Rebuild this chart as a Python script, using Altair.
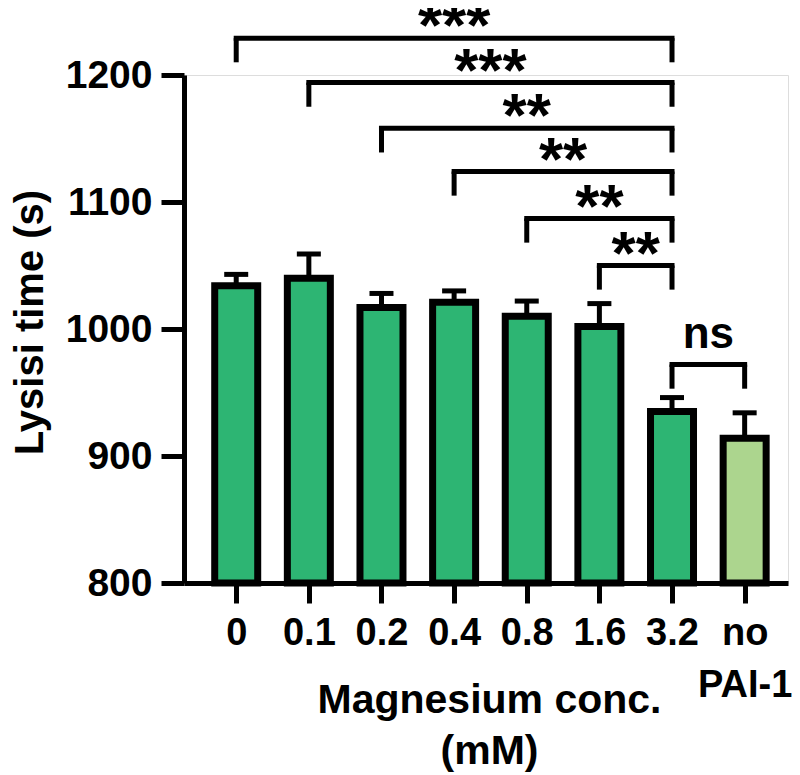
import json
import altair as alt
import pandas as pd

# ---- data ----
categories = ["0", "0.1", "0.2", "0.4", "0.8", "1.6", "3.2", "no PAI-1"]
lysis_mean = [1034, 1040, 1017, 1021, 1010, 1002, 935, 914]
lysis_err = [9, 19, 11, 9, 12, 18, 11, 20]
bar_group = ["Mg", "Mg", "Mg", "Mg", "Mg", "Mg", "Mg", "control"]

y_ticks = [800, 900, 1000, 1100, 1200]

cmp_left = ["0", "0.1", "0.2", "0.4", "0.8", "1.6", "3.2"]
cmp_right = ["3.2", "3.2", "3.2", "3.2", "3.2", "3.2", "no PAI-1"]
cmp_level = [1229, 1194, 1158, 1124, 1087, 1050, 972]
cmp_label = ["***", "***", "**", "**", "**", "**", "ns"]
LEG = 19

# ---- tables ----
bars_df = pd.DataFrame({
    "idx": list(range(len(categories))),
    "cat": categories,
    "mean": lysis_mean,
    "top": [m + e for m, e in zip(lysis_mean, lysis_err)],
    "group": bar_group,
})

pos = {c: i for i, c in enumerate(categories)}
br_df = pd.DataFrame({
    "i1": [pos[c] for c in cmp_left],
    "i2": [pos[c] for c in cmp_right],
    "level": cmp_level,
    "label": cmp_label,
})
br_df["mid"] = (br_df["i1"] + br_df["i2"]) / 2
br_df["leg_end"] = br_df["level"] - LEG
legs_df = pd.concat([
    br_df[["i1", "level", "leg_end"]].rename(columns={"i1": "i"}),
    br_df[["i2", "level", "leg_end"]].rename(columns={"i2": "i"}),
])
stars_df = br_df[br_df["label"] != "ns"]
ns_df = br_df[br_df["label"] == "ns"]

W, H = 604, 508
FONT = "Liberation Sans"

xscale = alt.Scale(domain=[-0.650, 7.528], nice=False, zero=False)
yscale = alt.Scale(domain=[800, 1200], nice=False, zero=False)

label_expr = "split(" + json.dumps(categories) + "[datum.value], ' ')"

xaxis = alt.Axis(
    values=list(range(len(categories))), labelExpr=label_expr,
    title=["Magnesium conc.", "(mM)"], grid=False,
    tickSize=20, tickWidth=5, domainWidth=5, domainColor="black", tickColor="black",
    labelFont=FONT, labelFontSize=38, labelFontWeight="bold", labelColor="black",
    labelPadding=11, labelLineHeight=52, labelFlush=False, labelOverlap=False,
    titleFont=FONT, titleFontSize=41, titleFontWeight="bold", titleColor="black",
    titleX=305, titleY=129, titleBaseline="alphabetic", titleLineHeight=51,
    titleAlign="center",
)
yaxis = alt.Axis(
    values=y_ticks, format="d", title="Lysisi time (s)", grid=False,
    tickSize=23, tickWidth=5, domainWidth=5, domainColor="black", tickColor="black",
    labelFont=FONT, labelFontSize=39, labelFontWeight="bold", labelColor="black",
    labelPadding=9,
    titleFont=FONT, titleFontSize=40, titleFontWeight="bold", titleColor="black",
    titleX=-154, titleY=247, titleBaseline="middle", titleAlign="center", titleAngle=-90,
)

X = alt.X("idx:Q", scale=xscale, axis=xaxis)
Y = alt.Y("mean:Q", scale=yscale, axis=yaxis)

err_line = alt.Chart(bars_df).mark_rule(color="black", strokeWidth=5).encode(
    x=X, y=Y, y2="top:Q")
err_cap = alt.Chart(bars_df).mark_tick(color="black", orient="horizontal", size=24,
                                        thickness=5, opacity=1).encode(
    x=X, y=alt.Y("top:Q", scale=yscale))
bars = alt.Chart(bars_df).mark_bar(size=43, stroke="black", strokeWidth=7).encode(
    x=X, y=Y, y2=alt.datum(800),
    fill=alt.Fill("group:N", scale=alt.Scale(domain=["Mg", "control"],
                                             range=["#2db573", "#acd58e"]), legend=None),
)

br_h = alt.Chart(br_df).mark_rule(color="black", strokeWidth=5, strokeCap="square").encode(
    x=alt.X("i1:Q", scale=xscale), x2="i2:Q", y=alt.Y("level:Q", scale=yscale))
br_v = alt.Chart(legs_df).mark_rule(color="black", strokeWidth=5).encode(
    x=alt.X("i:Q", scale=xscale), y=alt.Y("level:Q", scale=yscale), y2="leg_end:Q")
stars = alt.Chart(stars_df).mark_text(font=FONT, fontSize=62, fontWeight="bold",
                                      baseline="alphabetic", dy=8, color="black").encode(
    x=alt.X("mid:Q", scale=xscale), y=alt.Y("level:Q", scale=yscale), text="label:N")
ns = alt.Chart(ns_df).mark_text(font=FONT, fontSize=44, fontWeight="bold",
                                baseline="alphabetic", dy=-17, color="black").encode(
    x=alt.X("mid:Q", scale=xscale), y=alt.Y("level:Q", scale=yscale), text="label:N")

chart = alt.layer(err_line, err_cap, bars, br_h, br_v, stars, ns).properties(
    width=W, height=H,
    autosize=alt.AutoSizeParams(type="none"),
    padding={"left": 176, "top": 67, "right": 4, "bottom": 190},
).configure_view(stroke=None).configure(background="white")

chart.save("out.html", embed_options={"renderer": "svg", "actions": False})
